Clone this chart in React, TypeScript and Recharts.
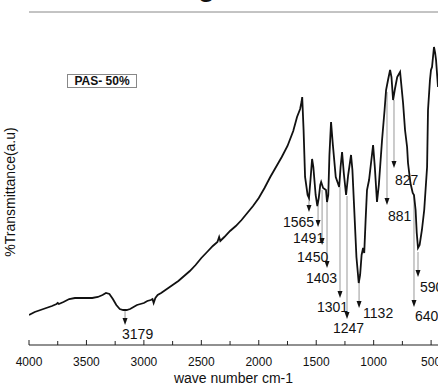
import React from 'react';
import { LineChart, Line, XAxis, YAxis, ReferenceLine, ReferenceDot } from 'recharts';

// FTIR spectrum of PAS-50% (wavenumber in cm-1, transmittance in arbitrary units)
const wavenumber = [
    4000, 3950, 3900, 3850, 3800, 3760, 3750, 3740, 3700, 3650, 3600, 3550, 3500, 3450, 3400, 3360,
    3330, 3300, 3270, 3240, 3210, 3180, 3150, 3120, 3090, 3060, 3030, 3000, 2970, 2940, 2925, 2915,
    2900, 2880, 2850, 2800, 2750, 2700, 2650, 2600, 2550, 2500, 2450, 2400, 2360, 2345, 2335, 2300,
    2250, 2200, 2150, 2100, 2050, 2000, 1950, 1900, 1850, 1800, 1750, 1700, 1667, 1640, 1628, 1622,
    1610, 1597, 1575, 1563, 1550, 1536, 1525, 1505, 1490, 1478, 1465, 1457, 1440, 1415, 1406, 1395,
    1385, 1371, 1355, 1330, 1300, 1288, 1275, 1260, 1240, 1222, 1197, 1185, 1170, 1150, 1130, 1118,
    1105, 1092, 1082, 1070, 1058, 1049, 1040, 1025, 1005, 990, 971, 955, 927, 905, 892, 875, 857,
    845, 831, 815, 795, 770, 744, 727, 709, 701, 680, 660, 649, 635, 625, 614, 600, 580, 560, 535,
    527, 510, 501, 492, 475, 465, 457, 440,
];
const transmittance = [
    30, 33, 35, 37, 39, 41, 42, 41, 43, 46, 47, 47, 47, 47, 48, 50,
    52, 51, 46, 40, 36, 35, 35, 36, 38, 40, 41, 42, 44, 45, 46, 42,
    47, 50, 52, 56, 60, 64, 69, 74, 80, 87, 93, 99, 103, 108, 104, 108,
    114, 119, 125, 132, 139, 147, 157, 168, 178, 188, 199, 214, 228, 236, 243, 248,
    215, 168, 150, 147, 165, 186, 178, 150, 139, 147, 160, 163, 157, 155, 143, 150,
    190, 223, 200, 168, 158, 178, 193, 172, 150, 170, 190, 175, 138, 88, 62, 70,
    90, 97, 92, 125, 155, 160, 165, 180, 200, 178, 143, 160, 205, 235, 255, 265, 275,
    268, 245, 256, 268, 273, 242, 215, 198, 182, 162, 152, 150, 135, 112, 97, 100, 115, 135, 178,
    235, 265, 275, 278, 298, 292, 285, 258,
];

// peak annotations: label text, arrow position, where the guide line starts and where the arrow ends
const peakLabels = ['3179', '1565', '1491', '1450', '1403', '1301', '1247', '1132', '881', '827', '640', '590'];
const peakPos = [3164, 1563, 1484, 1449, 1406, 1293, 1232, 1127, 884, 823, 649, 614];
const peakFrom = [35, 147, 139, 155, 145, 158, 149, 63, 253, 245, 150, 93];
const peakTo = [20, 133, 118, 100, 77, 47, 26, 37, 140, 177, 38, 68];
// label offsets from the arrow tip (px)
const labelDx = [-3, -26, -25, -25, -21, -23, -14, 4, 1, 1, 1, 2];
const labelDy = [9, 10, 11, 12, 10, 9, 9, 5, 11, 12, 9, 10];

const tickValues = [4000, 3750, 3500, 3250, 3000, 2750, 2500, 2250, 2000, 1750, 1500, 1250, 1000, 750, 500];

const data = wavenumber.map((w, i) => ({ w, t: transmittance[i] }));

const FONT = '"Liberation Sans", Arial, sans-serif';

function AxisTick(props: any) {
    const { x, y, payload } = props;
    const major = payload.value % 500 === 0;
    return (
        <g>
            <line x1={x} x2={x} y1={y} y2={y - (major ? 5 : 4)} stroke="#222" strokeWidth={1} />
            {major && (
                <text x={x} y={y + 21} textAnchor="middle" fontSize={12} fill="#111" fontFamily={FONT}>
                    {payload.value}
                </text>
            )}
        </g>
    );
}

function arrowShape(label: string, dx: number, dy: number) {
    return (p: any) => {
        const { cx, cy } = p;
        return (
            <g>
                <polygon points={`${cx - 2.5},${cy - 7} ${cx + 2.5},${cy - 7} ${cx},${cy}`} fill="#111" />
                <text x={cx + dx} y={cy + dy} dominantBaseline="central" fontSize={14} fill="#111" fontFamily={FONT}>
                    {label}
                </text>
            </g>
        );
    };
}

export default function App() {
    return (
        <div
            style={{
                position: 'absolute',
                left: 0,
                top: 0,
                width: 438,
                height: 385,
                overflow: 'hidden',
                background: '#fff',
                fontFamily: FONT,
            }}
        >
            <LineChart width={438} height={385} data={data} margin={{ top: 12, right: 0, bottom: 0, left: 29 }}>
                <XAxis
                    type="number"
                    dataKey="w"
                    domain={[440, 4000]}
                    reversed
                    ticks={tickValues}
                    interval={0}
                    tick={<AxisTick />}
                    tickLine={false}
                    tickSize={0}
                    tickMargin={0}
                    height={40}
                    axisLine={{ stroke: '#222', strokeWidth: 1.2 }}
                    label={{ value: 'wave number cm-1', position: 'insideBottom', offset: 2, fontSize: 14, fill: '#111' }}
                    allowDataOverflow
                />
                <YAxis
                    type="number"
                    domain={[0, 333]}
                    width={0}
                    tick={false}
                    tickLine={false}
                    axisLine={{ stroke: '#222', strokeWidth: 1.2 }}
                    allowDataOverflow
                />
                <ReferenceLine y={333} stroke="#888" strokeWidth={1} />
                {peakLabels.map((lab, i) => (
                    <ReferenceLine
                        key={'l' + lab}
                        segment={[
                            { x: peakPos[i], y: peakFrom[i] },
                            { x: peakPos[i], y: peakTo[i] + 6 },
                        ]}
                        stroke="#999"
                        strokeWidth={1}
                    />
                ))}
                <Line
                    type="linear"
                    dataKey="t"
                    stroke="#111"
                    strokeWidth={1.8}
                    dot={false}
                    isAnimationActive={false}
                />
                {peakLabels.map((lab, i) => (
                    <ReferenceDot
                        key={'d' + lab}
                        x={peakPos[i]}
                        y={peakTo[i]}
                        r={0}
                        shape={arrowShape(lab, labelDx[i], labelDy[i])}
                    />
                ))}
            </LineChart>
            <div
                style={{
                    position: 'absolute',
                    left: 198,
                    top: -27,
                    fontSize: 28,
                    fontWeight: 'bold',
                    lineHeight: '28px',
                    color: '#111',
                }}
            >
                g
            </div>
            <div
                style={{
                    position: 'absolute',
                    left: 10,
                    top: 192,
                    transform: 'translate(-50%, -50%) rotate(-90deg)',
                    fontSize: 14,
                    whiteSpace: 'nowrap',
                    color: '#111',
                }}
            >
                %Transmittance(a.u)
            </div>
            <div
                style={{
                    position: 'absolute',
                    left: 67,
                    top: 74,
                    width: 68,
                    height: 12,
                    border: '1px solid #888',
                    fontSize: 12,
                    fontWeight: 'bold',
                    lineHeight: '12px',
                    textAlign: 'center',
                    color: '#111',
                }}
            >
                PAS- 50%
            </div>
        </div>
    );
}
